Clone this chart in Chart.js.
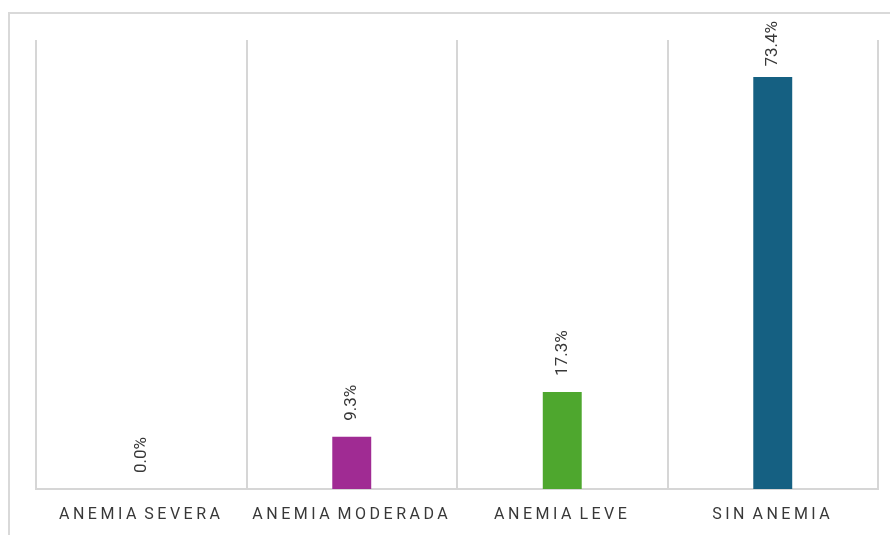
<!DOCTYPE html>
<html>
<head>
<meta charset="utf-8">
<script src="https://cdn.jsdelivr.net/npm/chart.js@4/dist/chart.umd.min.js"></script>
<style>
  html, body { margin: 0; padding: 0; background: #fff; overflow: hidden; }
  #wrap { position: relative; width: 890px; height: 535px; }
  #frame { position: absolute; left: 8px; top: 12px; width: 900px; height: 600px;
           border: 2px solid #d9d9d9; box-sizing: border-box; }
  canvas { position: absolute; left: 0; top: 0; }
</style>
</head>
<body>
<div id="wrap">
  <div id="frame"></div>
  <canvas id="anemiaChart" width="890" height="535"></canvas>
</div>
<script>
// Anemia categories and their shares (%)
const categories = ['ANEMIA SEVERA', 'ANEMIA MODERADA', 'ANEMIA LEVE', 'SIN ANEMIA'];
const percentages = [0.0, 9.3, 17.3, 73.4];
const barColors = ['#e97132', '#a02b93', '#4ea72e', '#156082'];

// draws the vertical "x.x%" labels above each bar
const valueLabels = {
    id: 'valueLabels',
    afterDatasetsDraw(chart) {
        const ctx = chart.ctx;
        const meta = chart.getDatasetMeta(0);
        ctx.save();
        ctx.font = '17px Roboto, sans-serif';
        ctx.fillStyle = '#383838';
        ctx.textAlign = 'left';
        ctx.textBaseline = 'middle';
        meta.data.forEach((bar, i) => {
            const txt = percentages[i].toFixed(1) + '%';
            const w = ctx.measureText(txt).width;
            // keep the tallest label inside the frame, like the original does
            const y = Math.max(bar.y - 16, 21 + w);
            ctx.save();
            ctx.translate(bar.x, y);
            ctx.rotate(-Math.PI / 2);
            ctx.fillText(txt, 0, 0);
            ctx.restore();
        });
        ctx.restore();
    }
};

// spaced-out capitals on the category axis
const spacedTicks = {
    id: 'spacedTicks',
    beforeDraw(chart) {
        chart.ctx.letterSpacing = '3.5px';
        chart.ctx.wordSpacing = '-3px';
    },
    beforeDatasetsDraw(chart) {
        chart.ctx.letterSpacing = '0px';
        chart.ctx.wordSpacing = '0px';
    }
};

new Chart(document.getElementById('anemiaChart'), {
    type: 'bar',
    data: {
        labels: categories,
        datasets: [{
            data: percentages,
            backgroundColor: barColors,
            borderWidth: 0,
            barPercentage: 0.185,
            categoryPercentage: 1
        }]
    },
    options: {
        responsive: false,
        animation: false,
        layout: { padding: { left: 36, right: 12, top: 40, bottom: 0 } },
        plugins: {
            legend: { display: false },
            tooltip: { enabled: false }
        },
        scales: {
            y: {
                display: false,
                min: 0,
                max: 80
            },
            x: {
                offset: true,
                afterFit(scale) { scale.height = 46; },
                grid: {
                    offset: true,
                    color: '#d6d6d6',
                    lineWidth: 2,
                    drawTicks: false
                },
                border: { color: '#d6d6d6', width: 2 },
                ticks: {
                    color: '#383838',
                    font: { family: 'Roboto', size: 16 },
                    padding: 16,
                    maxRotation: 0
                }
            }
        }
    },
    plugins: [valueLabels, spacedTicks]
});
</script>
</body>
</html>
